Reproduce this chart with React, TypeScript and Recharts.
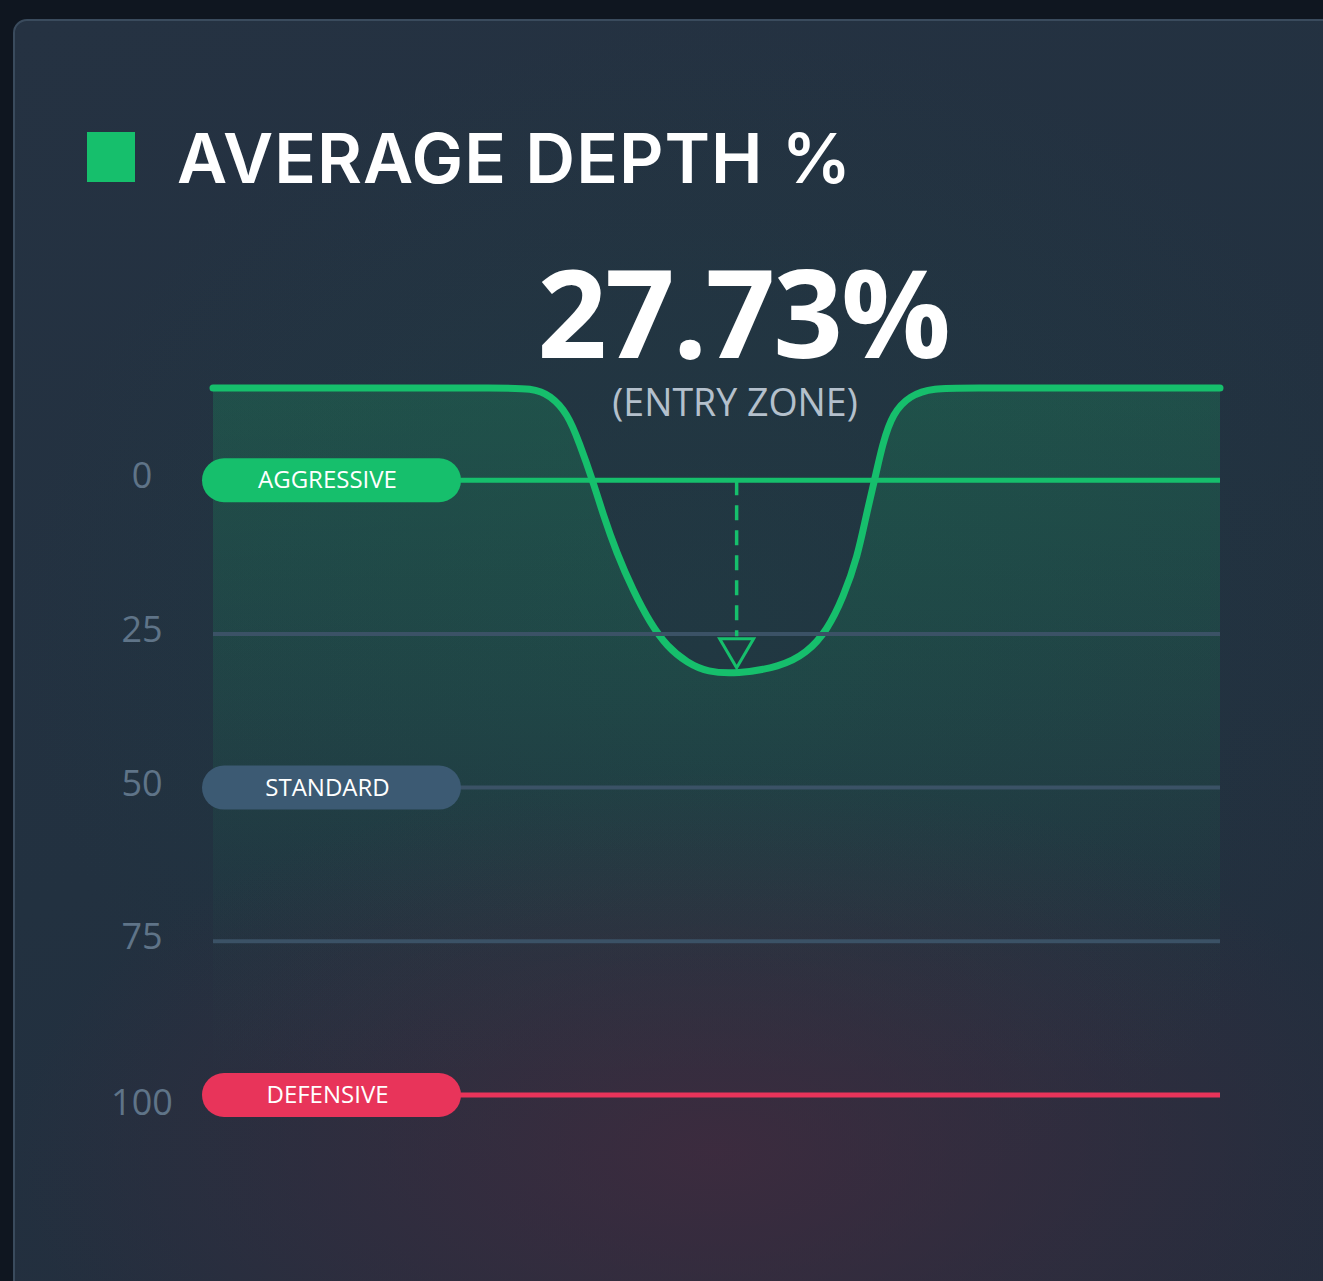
import {
  ComposedChart,
  Area,
  XAxis,
  YAxis,
  ReferenceLine,
  ReferenceDot,
} from "recharts";

// curve position along the track (0..100) and depth
const curveX = [
  0, 10, 20, 28, 31.8, 33.5, 35.2, 36.4, 37.7, 38.7, 40.1, 41.7, 43.4, 45.1, 47.1,
  49.1, 52, 56.3, 59, 61, 62.6, 64, 64.9, 65.7, 66.5, 67.5, 69.2, 71.5, 75, 85,
  92, 100,
];
const curveDepth = [
  -15, -15, -15, -15, -15, -13.8, -10.9, -6, 0, 5.4, 11.9, 17.9, 23.2, 27.1, 29.7,
  31.2, 31.5, 30.4, 28.1, 24.4, 19, 12.5, 5.4, 0, -6, -10.9, -13.8, -15, -15, -15,
  -15, -15,
];

const depthTicks = [0, 25, 50, 75, 100];
const avgDepth = 27.73;
const markerX = 52;

const zones = [
  { name: "AGGRESSIVE", depth: 0, color: "#16bf6c", line: "#16bf6c" },
  { name: "STANDARD", depth: 50, color: "#3c5a73", line: "#3b5266" },
  { name: "DEFENSIVE", depth: 100, color: "#e8345a", line: "#e8345a" },
];
const plainLines = [25, 75];

const curveData = curveX.map((x, i) => ({ x, depth: curveDepth[i] }));

const GREEN = "#16bf6c";
const FONT = "'Open Sans', 'Noto Sans', sans-serif";

function TickLabel({ x, y, payload }: any) {
  // the last label sits a little lower than its line
  const dy = payload.value === 100 ? 20 : 8;
  return (
    <text
      x={x - 71}
      y={y + dy}
      textAnchor="middle"
      fill="#5f7488"
      fontSize={36}
      fontFamily={FONT}
    >
      {payload.value}
    </text>
  );
}

function Pill({ viewBox, text, color }: any) {
  const { x, y } = viewBox;
  const w = 259;
  const h = 44;
  return (
    <g>
      <rect x={x - 11} y={y - h / 2} width={w} height={h} rx={22} fill={color} />
      <text
        x={x - 11 + w / 2 - 4}
        y={y + 8}
        textAnchor="middle"
        fill="#ffffff"
        fontSize={24}
        fontFamily={FONT}
      >
        {text}
      </text>
    </g>
  );
}

function Marker({ cx, cy }: any) {
  return (
    <path
      d={`M${cx - 17} ${cy - 12} L${cx + 17} ${cy - 12} L${cx} ${cy + 17} Z`}
      fill="none"
      stroke={GREEN}
      strokeWidth={3}
    />
  );
}

export default function App() {
  return (
    <div
      style={{
        position: "fixed",
        left: 0,
        top: 0,
        width: 1323,
        height: 1281,
        background: "#0f1620",
        overflow: "hidden",
      }}
    >
      <div
        style={{
          position: "absolute",
          left: 13,
          top: 19,
          width: 1340,
          height: 1300,
          borderRadius: 14,
          border: "2px solid #3a4b5d",
          background:
            "radial-gradient(ellipse 700px 380px at 700px 1130px, rgba(66,42,62,0.8), rgba(66,42,62,0) 100%), radial-gradient(ellipse 700px 600px at 700px 600px, rgba(30,70,70,0.35), rgba(30,70,70,0) 100%), linear-gradient(160deg, #253242 0%, #223140 50%, #242d3d 100%)",
        }}
      />
      <div
        style={{
          position: "absolute",
          left: 87,
          top: 132,
          width: 48,
          height: 50,
          background: GREEN,
        }}
      />
      <div
        style={{
          position: "absolute",
          left: 177,
          top: 118,
          fontFamily: "Inter, sans-serif",
          fontWeight: 600,
          fontSize: 69,
          letterSpacing: 1,
          lineHeight: "80px",
          color: "#ffffff",
          whiteSpace: "nowrap",
        }}
      >
        AVERAGE DEPTH %
      </div>
      <div
        style={{
          position: "absolute",
          left: 443,
          width: 600,
          top: 251,
          textAlign: "center",
          fontFamily: FONT,
          fontWeight: 700,
          fontSize: 122,
          letterSpacing: -2,
          lineHeight: "120px",
          color: "#ffffff",
        }}
      >
        {avgDepth.toFixed(2)}%
      </div>
      <div
        style={{
          position: "absolute",
          left: 435,
          width: 600,
          top: 377,
          textAlign: "center",
          fontFamily: FONT,
          fontSize: 37.5,
          lineHeight: "50px",
          color: "#b4c0cc",
        }}
      >
        (ENTRY ZONE)
      </div>
      <div style={{ position: "absolute", left: 0, top: 0 }}>
        <ComposedChart
          width={1323}
          height={1281}
          data={curveData}
          margin={{ top: 388, right: 103, bottom: 186, left: 113 }}
        >
          <defs>
            <linearGradient id="depthFill" x1="0" y1="0" x2="0" y2="1">
              <stop offset="0%" stopColor={GREEN} stopOpacity={0.34} />
              <stop offset="45%" stopColor={GREEN} stopOpacity={0.18} />
              <stop offset="80%" stopColor={GREEN} stopOpacity={0.02} />
              <stop offset="100%" stopColor={GREEN} stopOpacity={0} />
            </linearGradient>
          </defs>
          <XAxis dataKey="x" type="number" domain={[0, 100]} hide />
          <YAxis
            type="number"
            domain={[-15, 100]}
            reversed
            ticks={depthTicks}
            width={100}
            axisLine={false}
            tickLine={false}
            tickSize={0}
            tickMargin={0}
            tick={<TickLabel />}
            interval={0}
          />
          <Area
            type="basis"
            dataKey="depth"
            baseValue={100}
            stroke={GREEN}
            strokeWidth={7}
            strokeLinecap="round"
            fill="url(#depthFill)"
            isAnimationActive={false}
            dot={false}
            activeDot={false}
          />
          {plainLines.map((d) => (
            <ReferenceLine key={d} y={d} stroke="#3b5266" strokeWidth={4} ifOverflow="visible" />
          ))}
          {zones.map((z) => (
            <ReferenceLine
              key={z.name}
              y={z.depth}
              stroke={z.line}
              strokeWidth={z.depth === 50 ? 4 : 5}
              ifOverflow="visible"
              label={<Pill text={z.name} color={z.color} />}
            />
          ))}
          <ReferenceLine
            segment={[
              { x: markerX, y: 0 },
              { x: markerX, y: 25.4 },
            ]}
            stroke={GREEN}
            strokeWidth={3.5}
            strokeDasharray="15 10"
            ifOverflow="visible"
          />
          <ReferenceDot
            x={markerX}
            y={avgDepth}
            r={17}
            ifOverflow="visible"
            shape={<Marker />}
          />
        </ComposedChart>
      </div>
    </div>
  );
}
